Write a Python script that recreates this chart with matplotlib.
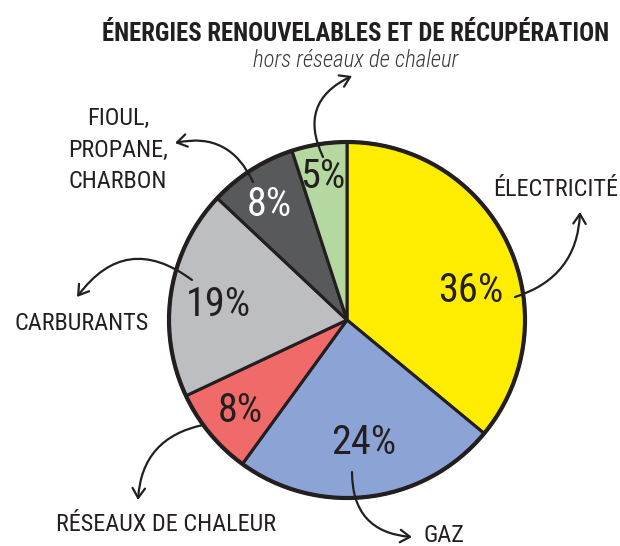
import matplotlib
matplotlib.use("Agg")
import matplotlib.pyplot as plt
from matplotlib.patches import Circle

# ---- data ----
categories = ["ÉLECTRICITÉ", "GAZ", "RÉSEAUX DE CHALEUR", "CARBURANTS",
              "FIOUL,\nPROPANE,\nCHARBON", "ÉNERGIES RENOUVELABLES ET DE RÉCUPÉRATION"]
values = [36, 24, 8, 19, 8, 5]
pct_labels = ["36%", "24%", "8%", "19%", "8%", "5%"]
colors = ["#FFED00", "#8CA3D5", "#F06A6A", "#BDBEC2", "#58595B", "#B5D8A0"]
pct_colors = ["#231F20", "#231F20", "#231F20", "#231F20", "#FFFFFF", "#231F20"]
subtitle = "hors réseaux de chaleur"

INK = "#231F20"
FONT = ["Roboto Condensed", "DejaVu Sans"]

W, H = 620, 546
fig = plt.figure(figsize=(W / 100, H / 100), dpi=100)
ax = fig.add_axes([0, 0, 1, 1])

def Y(py):
    return H - py

cx, cy, R = 347, 320, 178
ax.pie(values, colors=colors, startangle=90, counterclock=False,
       center=(cx, Y(cy)), radius=R, frame=True,
       wedgeprops=dict(edgecolor=INK, linewidth=2.2))
ax.add_patch(Circle((cx, Y(cy)), R, fill=False, edgecolor=INK, linewidth=3.0, zorder=5))
ax.set_xlim(0, W)
ax.set_ylim(0, H)
ax.set_aspect("equal")
ax.axis("off")

# percentage labels
pct_pos = [(471, 291), (364, 442), (240, 410), (218, 305), (269, 205), (323, 177)]
for (px, py), t, c in zip(pct_pos, pct_labels, pct_colors):
    ax.text(px, Y(py), t, ha="center", va="center", fontsize=29, color=c,
            family=FONT, zorder=6)

# title and subtitle
ax.text(356, Y(41), categories[5], ha="center", va="baseline", fontsize=17.8,
        color=INK, family=FONT, fontweight="bold")
ax.text(356, Y(67), subtitle, ha="center", va="baseline", fontsize=16.5,
        color="#3a3a3a", family=FONT, style="italic", fontweight="light")

# category labels
LBL = 17.5
ax.text(556, Y(196), categories[0], ha="center", va="baseline", fontsize=LBL,
        color=INK, family=FONT)
ax.text(444, Y(542), categories[1], ha="center", va="baseline", fontsize=LBL,
        color=INK, family=FONT)
ax.text(166, Y(531), categories[2], ha="center", va="baseline", fontsize=LBL,
        color=INK, family=FONT)
ax.text(82, Y(330), categories[3], ha="center", va="baseline", fontsize=LBL,
        color=INK, family=FONT)
for line, base in zip(categories[4].split("\n"), [125, 157, 188]):
    ax.text(118, Y(base), line, ha="center", va="baseline", fontsize=LBL,
            color=INK, family=FONT)

# curved arrows (start inside slice, tip at label)
arrows = [
    ((515, 297), (580, 212), 0.35),   # électricité
    ((352, 472), (412, 537), 0.46),   # gaz
    ((203, 425), (138, 500), 0.38),   # réseaux
    ((192, 280), (77, 297), 0.5),     # carburants
    ((253, 182), (175, 143), 0.4),    # fioul
    ((323, 157), (352, 76), -0.5),    # ENR
]
for (sx, sy), (ex, ey), rad in arrows:
    ax.annotate("", xy=(ex, Y(ey)), xytext=(sx, Y(sy)),
                arrowprops=dict(arrowstyle="->,head_length=0.7,head_width=0.45",
                                color=INK, lw=1.6,
                                connectionstyle=f"arc3,rad={rad}",
                                shrinkA=0, shrinkB=0), zorder=7)

fig.savefig("out.png", dpi=100)
